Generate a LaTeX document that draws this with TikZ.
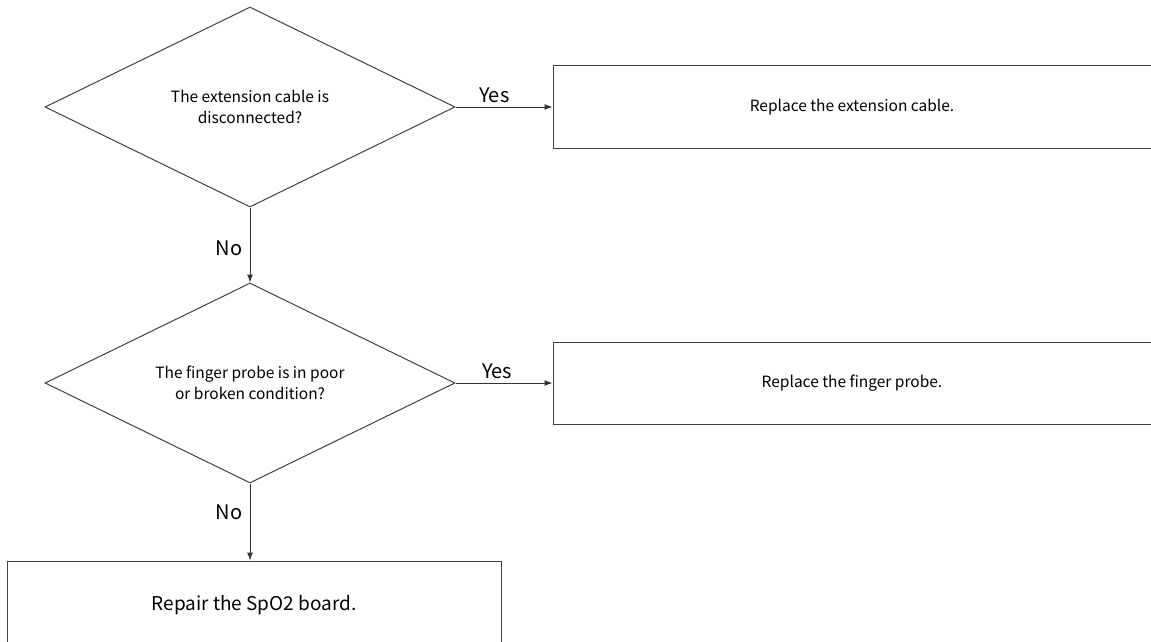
\documentclass[tikz,border=0pt]{standalone}
\usepackage{fontspec}
\setmainfont{Noto Sans CJK KR}
\usetikzlibrary{arrows.meta,positioning,shapes.geometric}

\begin{document}
\begin{tikzpicture}[x=1pt,y=-1pt,
    decision/.style={diamond,draw=black!75,line width=1pt,aspect=2.05,minimum width=410pt,minimum height=200pt,inner sep=0pt,align=center,font=\fontsize{15.5}{21}\selectfont},
    actionbox/.style={rectangle,draw=black!75,line width=1pt,inner sep=0pt,font=\fontsize{15.5}{18}\selectfont},
    flow/.style={draw=black!80,line width=1pt,-{Latex[length=8pt,width=6pt]}},
    answer/.style={font=\fontsize{20}{22}\selectfont}]
        \useasboundingbox (0,0) rectangle (1151,642);
        \node[decision] (cable) at (250,107) {The extension cable is\\disconnected?};
        \node[actionbox,minimum width=598pt,minimum height=82pt] (newcable) at (852,107) {Replace the extension cable.};
        \node[decision] (probe) at (250,383) {The finger probe is in poor\\or broken condition?};
        \node[actionbox,minimum width=598pt,minimum height=82pt] (newprobe) at (852,383) {Replace the finger probe.};
        \node[actionbox,minimum width=494pt,minimum height=88pt,font=\fontsize{19}{22}\selectfont] (repair) at (254,605) {Repair the SpO2 board.};
        \draw[flow] (cable.east) -- node[answer,above,pos=0.4] {Yes} (newcable.west);
        \draw[flow] (cable.south) -- node[answer,left=4pt,pos=0.55] {No} (probe.north);
        \draw[flow] (probe.east) -- node[answer,above,pos=0.43] {Yes} (newprobe.west);
        \draw[flow] (probe.south) -- node[answer,left=4pt,pos=0.37] {No} (probe.south |- repair.north);
      \end{tikzpicture}
\end{document}
